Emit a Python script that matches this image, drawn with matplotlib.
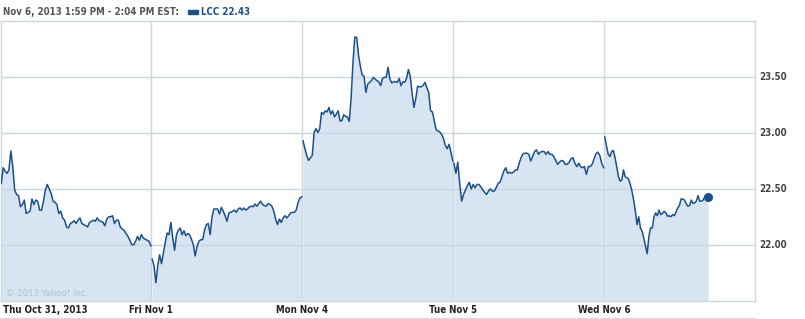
import numpy as np
import matplotlib
matplotlib.use("Agg")
import matplotlib.pyplot as plt
from matplotlib.lines import Line2D
from matplotlib.patches import Rectangle

# ---------------- data ----------------
day_labels = ["Thu Oct 31, 2013", "Fri Nov 1", "Mon Nov 4", "Tue Nov 5", "Wed Nov 6"]
y_ticks = [22.00, 22.50, 23.00, 23.50]
header_text = "Nov 6, 2013 1:59 PM - 2:04 PM EST:"
legend_text = "LCC 22.43"
last_time_minutes = 13 * 60 + 59   # 1:59 PM
open_minutes = 9 * 60 + 30
close_minutes = 16 * 60

oct31 = [22.55, 22.69, 22.66, 22.64, 22.67, 22.84, 22.70, 22.49, 22.45, 22.44, 22.34, 22.36,
         22.40, 22.28, 22.29, 22.30, 22.41, 22.36, 22.40, 22.39, 22.31, 22.31, 22.39, 22.49,
         22.54, 22.50, 22.46, 22.39, 22.38, 22.36, 22.28, 22.30, 22.24, 22.22, 22.16, 22.15,
         22.19, 22.20, 22.215, 22.19, 22.22, 22.24, 22.19, 22.18, 22.17, 22.16, 22.20, 22.21,
         22.22, 22.21, 22.24, 22.215, 22.21, 22.20, 22.17, 22.23, 22.25, 22.25, 22.26, 22.19,
         22.22, 22.22, 22.16, 22.14, 22.13, 22.10, 22.075, 22.04, 22.00, 22.00, 22.03, 22.075,
         22.04, 22.09, 22.06, 22.05, 22.04, 22.03, 21.99]

nov1 = [21.87, 21.81, 21.66, 21.81, 21.91, 21.83, 21.925, 22.02, 22.105, 22.09, 22.20, 22.06,
        21.95, 22.09, 22.13, 22.15, 22.09, 22.125, 22.08, 22.10, 22.09, 22.05, 22.00, 21.90,
        21.985, 22.03, 22.045, 22.045, 22.13, 22.18, 22.19, 22.09, 22.25, 22.32, 22.32, 22.32,
        22.275, 22.335, 22.30, 22.26, 22.21, 22.285, 22.29, 22.30, 22.31, 22.29, 22.32, 22.33,
        22.31, 22.33, 22.31, 22.32, 22.34, 22.345, 22.34, 22.365, 22.345, 22.37, 22.39, 22.36,
        22.35, 22.345, 22.37, 22.36, 22.345, 22.30, 22.23, 22.18, 22.23, 22.20, 22.24, 22.26,
        22.24, 22.26, 22.285, 22.29, 22.29, 22.31, 22.38, 22.42, 22.43]

nov4 = [22.93, 22.86, 22.80, 22.755, 22.78, 22.80, 23.006, 23.04, 23.006, 23.037, 23.185, 23.17,
        23.20, 23.19, 23.23, 23.17, 23.20, 23.145, 23.17, 23.20, 23.11, 23.11, 23.165, 23.15,
        23.145, 23.105, 23.31, 23.63, 23.86, 23.86, 23.70, 23.60, 23.52, 23.51, 23.365, 23.44,
        23.455, 23.47, 23.50, 23.485, 23.47, 23.46, 23.425, 23.49, 23.50, 23.50, 23.59, 23.485,
        23.45, 23.46, 23.46, 23.455, 23.49, 23.425, 23.46, 23.455, 23.49, 23.57, 23.51, 23.36,
        23.23, 23.31, 23.42, 23.415, 23.415, 23.43, 23.455, 23.405, 23.365, 23.20, 23.19, 23.11,
        23.03, 23.02, 23.01, 22.99, 22.95, 22.89, 22.86, 22.90, 22.83, 22.75]

nov5 = [22.73, 22.64, 22.74, 22.55, 22.39, 22.45, 22.49, 22.53, 22.56, 22.50, 22.54, 22.51,
        22.54, 22.54, 22.52, 22.49, 22.47, 22.45, 22.48, 22.50, 22.48, 22.48, 22.51, 22.55,
        22.56, 22.61, 22.66, 22.69, 22.64, 22.65, 22.64, 22.65, 22.67, 22.67, 22.73, 22.78,
        22.815, 22.82, 22.82, 22.81, 22.75, 22.79, 22.835, 22.85, 22.81, 22.83, 22.835, 22.835,
        22.81, 22.835, 22.81, 22.81, 22.79, 22.755, 22.72, 22.74, 22.755, 22.75, 22.72, 22.72,
        22.74, 22.77, 22.78, 22.73, 22.70, 22.73, 22.70, 22.69, 22.70, 22.63, 22.70, 22.70,
        22.72, 22.77, 22.815, 22.83, 22.80, 22.73, 22.69]

nov6 = [22.965, 22.88, 22.81, 22.79, 22.835, 22.845, 22.78, 22.70, 22.61, 22.57, 22.58, 22.67,
        22.61, 22.60, 22.59, 22.54, 22.48, 22.40, 22.30, 22.18, 22.25, 22.15, 22.12, 22.06,
        21.985, 21.92, 22.075, 22.15, 22.15, 22.25, 22.285, 22.26, 22.31, 22.27, 22.28, 22.30,
        22.285, 22.255, 22.26, 22.25, 22.27, 22.26, 22.29, 22.33, 22.35, 22.41, 22.41, 22.40,
        22.37, 22.345, 22.35, 22.40, 22.37, 22.375, 22.39, 22.44, 22.39, 22.39, 22.40, 22.43,
        22.44, 22.425]

days = [oct31, nov1, nov4, nov5, nov6]

# ---------------- style ----------------
LINE = "#1d5089"
FILL = "#d6e5f1"
GRID = "#cbd6df"
TXT = "#444444"
FONT = dict(family="DejaVu Sans", fontstretch="condensed")

W, H = 805, 319
fig = plt.figure(figsize=(W / 100, H / 100), dpi=100)
fig.patch.set_facecolor("white")
ax_l, ax_r, ax_t, ax_b = 0.5, 755, 21, 300.5
ax = fig.add_axes([ax_l / W, (H - ax_b) / H, (ax_r - ax_l) / W, (ax_b - ax_t) / H])
ax.set_facecolor("white")

ymin, ymax = 21.5, 24.005
ax.set_xlim(0, 5)
ax.set_ylim(ymin, ymax)

last_frac = (last_time_minutes - open_minutes) / (close_minutes - open_minutes)
for d, vals in enumerate(days):
    span = 1.0 if d < len(days) - 1 else last_frac
    span_used = span * (0.997 if d < len(days) - 1 else 1.0)
    xs = d + 0.005 + np.linspace(0, span_used - 0.005, len(vals))
    ax.fill_between(xs, ymin, vals, color=FILL, lw=0, zorder=1)
    ax.plot(xs, vals, color=LINE, lw=1.1, zorder=4, solid_joinstyle="round")
    if d == len(days) - 1:
        ax.plot(xs[-1], vals[-1], "o", color=LINE, ms=5.5, zorder=5)

for yv in y_ticks:
    ax.axhline(yv, color=GRID, lw=1.0, zorder=2)
for d in range(1, 5):
    ax.axvline(d, color=GRID, lw=1.0, zorder=2)

for s in ax.spines.values():
    s.set_color(GRID)
    s.set_linewidth(1.0)

ax.set_xticks([])
ax.set_yticks([])

# y labels on the right
for yv in y_ticks:
    ax.text(1.006, (yv - ymin) / (ymax - ymin), f"{yv:.2f}", transform=ax.transAxes,
            ha="left", va="center", fontsize=7.0, fontweight="bold", color=TXT, **FONT)

# x labels
label_y = (H - 310) / H
for d, lab in enumerate(day_labels):
    if d == 0:
        fig.text(3 / W, label_y, lab, ha="left", va="center", fontsize=7.0,
                 fontweight="bold", color="#222222", **FONT)
    else:
        xpix = ax_l + d * (ax_r - ax_l) / 5
        fig.text(xpix / W, label_y, lab, ha="center", va="center", fontsize=7.0,
                 fontweight="bold", color="#222222", **FONT)

# bottom rule under labels
fig.add_artist(Line2D([0, ax_r / W], [(H - 318) / H, (H - 318) / H], color="#d5dde3", lw=1.0))

# header
fig.text(3 / W, (H - 12) / H, header_text, ha="left", va="center", fontsize=7.0,
         fontweight="bold", color="#555555", **FONT)
fig.add_artist(Rectangle((188 / W, (H - 14) / H), 10 / W, 4 / H, color=LINE,
                         transform=fig.transFigure))
fig.text(201 / W, (H - 12) / H, legend_text, ha="left", va="center", fontsize=7.0,
         fontweight="bold", color=LINE, **FONT)

# copyright
ax.text(5 / (ax_r - ax_l), 1 - (294 - ax_t) / (ax_b - ax_t), "\u00a9 2013 Yahoo! Inc.",
        transform=ax.transAxes, ha="left", va="center", fontsize=6.8, color="#b3c1cc",
        zorder=6, **FONT)

fig.savefig("out.png", dpi=100, facecolor="white")
